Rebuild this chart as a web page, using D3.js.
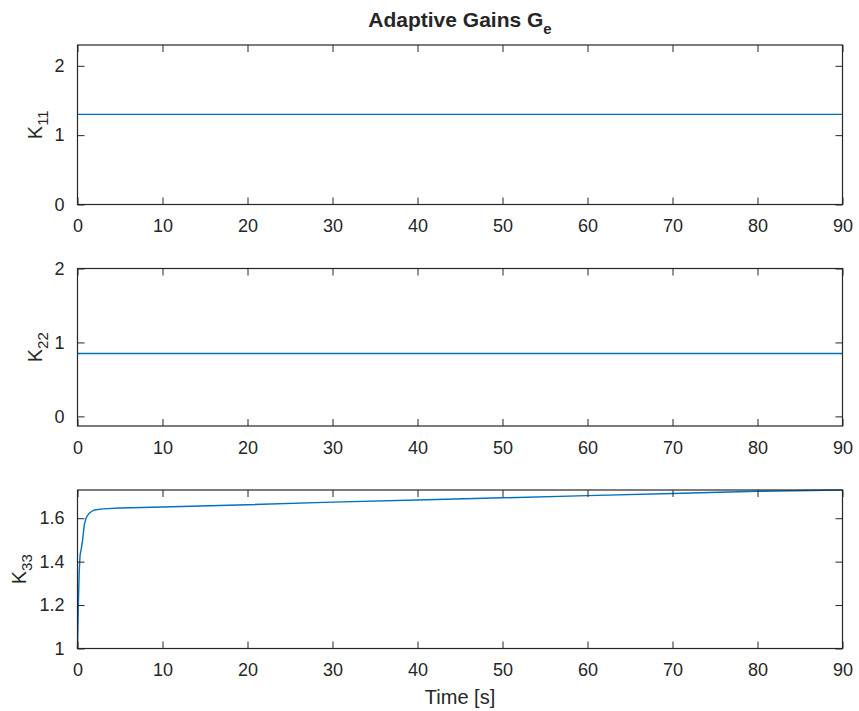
<!DOCTYPE html>
<html>
<head>
<meta charset="utf-8">
<script src="https://cdn.jsdelivr.net/npm/d3@7"></script>
<style>
  body { margin: 0; background: #fff; }
  text { font-family: "Liberation Sans", Arial, sans-serif; fill: #262626; }
  .axis path, .axis line { stroke: #262626; }
</style>
</head>
<body>
<div class="chart"></div>
<script>
// time axis ticks
var xTicks = [0, 10, 20, 30, 40, 50, 60, 70, 80, 90];

// K11 and K22 stay constant over the run
var k11Time = [0, 90], k11Vals = [1.3, 1.3];
var k22Time = [0, 90], k22Vals = [0.85, 0.85];

// K33 rises fast then creeps up
var k33Time = [0, 0.1, 0.2, 0.3, 0.45, 0.6, 0.8, 1.0, 1.3, 1.6, 2, 3, 5, 10, 20, 30, 40, 50, 60, 70, 80, 90];
var k33Vals = [1, 1.2, 1.35, 1.43, 1.46, 1.5, 1.57, 1.6, 1.62, 1.63, 1.638, 1.643, 1.647, 1.652, 1.662, 1.674, 1.684, 1.694, 1.704, 1.714, 1.724, 1.73];

var k11Ticks = [0, 1, 2], k22Ticks = [0, 1, 2], k33Ticks = [1, 1.2, 1.4, 1.6];

var width = 859, height = 711;
var left = 77.5, right = 842.5;

var svg = d3.select(".chart").append("svg")
    .attr("width", width)
    .attr("height", height);

var panels = [
    {top: 45, bottom: 204.5, dom: [0, 2.3], ticks: k11Ticks, t: k11Time, v: k11Vals, lab: "K", sub: "11", labX: 35},
    {top: 268.5, bottom: 426, dom: [-0.13, 2], ticks: k22Ticks, t: k22Time, v: k22Vals, lab: "K", sub: "22", labX: 35},
    {top: 490, bottom: 648.5, dom: [1, 1.73], ticks: k33Ticks, t: k33Time, v: k33Vals, lab: "K", sub: "33", labX: 19}
];

panels.forEach(function (p) {
    var x = d3.scaleLinear().domain([0, 90]).range([left, right]);
    var y = d3.scaleLinear().domain(p.dom).range([p.bottom, p.top]);
    var g = svg.append("g");

    // data line
    var line = d3.line()
        .x(function (d, i) { return x(p.t[i]); })
        .y(function (d) { return y(d); });
    g.append("path")
        .datum(p.v)
        .attr("d", line)
        .attr("fill", "none")
        .attr("stroke", "#0072BD")
        .attr("stroke-width", 1.4);

    // box
    g.append("rect")
        .attr("x", left).attr("y", p.top)
        .attr("width", right - left).attr("height", p.bottom - p.top)
        .attr("fill", "none").attr("stroke", "#262626").attr("stroke-width", 1.2);

    var fmt = function (d) { return d3.format("~g")(d); };

    var xb = g.append("g").attr("class", "axis")
        .attr("transform", "translate(0," + p.bottom + ")")
        .call(d3.axisBottom(x).tickValues(xTicks).tickSize(-7).tickPadding(15).tickFormat(fmt));
    xb.selectAll("text").attr("font-size", 18).attr("dy", "0.71em");

    g.append("g").attr("class", "axis")
        .attr("transform", "translate(0," + p.top + ")")
        .call(d3.axisTop(x).tickValues(xTicks).tickSize(-7).tickFormat(""));

    var yl = g.append("g").attr("class", "axis")
        .attr("transform", "translate(" + left + ",0)")
        .call(d3.axisLeft(y).tickValues(p.ticks).tickSize(-7).tickPadding(13).tickFormat(fmt));
    yl.selectAll("text").attr("font-size", 18);

    g.append("g").attr("class", "axis")
        .attr("transform", "translate(" + right + ",0)")
        .call(d3.axisRight(y).tickValues(p.ticks).tickSize(-7).tickFormat(""));

    g.selectAll(".axis path.domain").remove();

    // y label with subscript
    var cy = (p.top + p.bottom) / 2;
    var yt = g.append("text")
        .attr("transform", "translate(" + (p.labX + 7) + "," + cy + ") rotate(-90)")
        .attr("text-anchor", "middle")
        .attr("font-size", 20);
    yt.append("tspan").text(p.lab);
    yt.append("tspan").attr("font-size", 15).attr("dy", 6).text(p.sub);
});

// title
var title = svg.append("text")
    .attr("x", 460).attr("y", 27)
    .attr("text-anchor", "middle")
    .attr("font-size", 21)
    .attr("font-weight", "bold");
title.append("tspan").text("Adaptive Gains G");
title.append("tspan").attr("font-size", 15).attr("dy", 7).text("e");

// x label
svg.append("text")
    .attr("x", (left + right) / 2).attr("y", 704)
    .attr("text-anchor", "middle")
    .attr("font-size", 20)
    .text("Time [s]");
</script>
</body>
</html>
